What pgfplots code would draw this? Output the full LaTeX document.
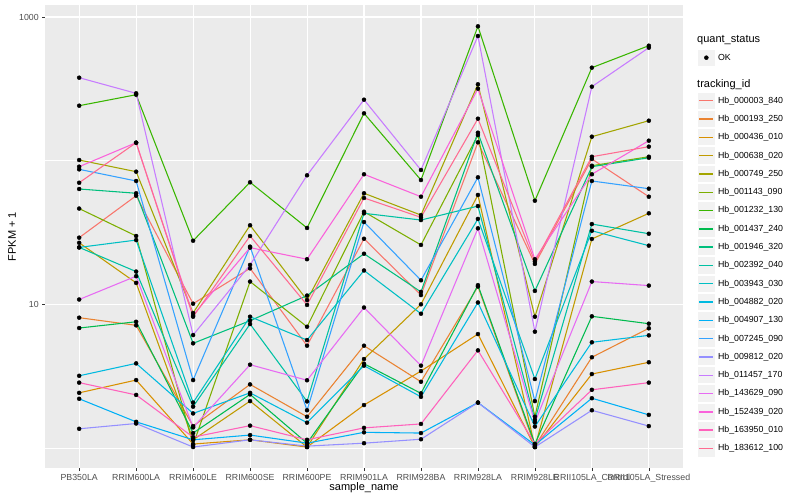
\documentclass[border=0pt]{standalone}
\usepackage{fontspec}
\setmainfont{Liberation Sans}
\usepackage{pgfplots}
\usepackage{pgfplotstable}
\pgfplotsset{compat=1.18}
\definecolor{c01}{HTML}{F8766D}
\definecolor{c02}{HTML}{EA8331}
\definecolor{c03}{HTML}{D89000}
\definecolor{c04}{HTML}{C09B00}
\definecolor{c05}{HTML}{A3A500}
\definecolor{c06}{HTML}{7CAE00}
\definecolor{c07}{HTML}{39B600}
\definecolor{c08}{HTML}{00BB4E}
\definecolor{c09}{HTML}{00BF7D}
\definecolor{c10}{HTML}{00C1A3}
\definecolor{c11}{HTML}{00BFC4}
\definecolor{c12}{HTML}{00BAE0}
\definecolor{c13}{HTML}{00B0F6}
\definecolor{c14}{HTML}{35A2FF}
\definecolor{c15}{HTML}{9590FF}
\definecolor{c16}{HTML}{C77CFF}
\definecolor{c17}{HTML}{E76BF3}
\definecolor{c18}{HTML}{FA62DB}
\definecolor{c19}{HTML}{FF62BC}
\definecolor{c20}{HTML}{FF6C91}
\definecolor{panelbg}{HTML}{EBEBEB}
\definecolor{keybg}{HTML}{F2F2F2}
\definecolor{grey30}{HTML}{4D4D4D}
\definecolor{grey20}{HTML}{333333}

% FPKM + 1 per sample (rows) and tracking_id (columns a01..a20, legend order)
\pgfplotstableread{
x a01 a02 a03 a04 a05 a06 a07 a08 a09 a10 a11 a12 a13 a14 a15 a16 a17 a18 a19 a20
0 29.1 8.07 2.42 26.8 101.0 46.4 241.3 6.84 63.5 24.9 24.9 3.18 2.20 87.0 1.36 378.0 10.8 90.8 2.85 70.2
1 57.0 7.14 2.97 14.1 83.8 29.9 287.7 7.56 59.3 16.9 28.0 3.88 1.52 72.2 1.48 294.2 15.7 133.4 2.34 133.4
2 10.1 1.42 1.065 1.14 8.7 1.05 27.7 1.27 5.35 1.94 2.07 1.74 1.14 2.97 1.015 6.11 1.39 8.4 1.19 8.2
3 17.8 2.77 1.14 2.12 35.5 14.4 70.7 2.36 7.69 7.29 8.2 2.42 1.23 25.2 1.14 18.8 3.80 24.8 1.43 29.9
4 5.15 1.65 1.015 1.015 10.7 6.98 34.0 1.08 11.5 2.11 5.64 1.50 1.08 1.83 1.03 79.1 2.96 20.6 1.14 9.9
5 28.6 5.15 1.99 4.16 59.3 44.1 213.6 3.86 22.5 43.0 17.2 3.74 1.285 37.4 1.08 265.6 9.5 80.4 1.38 55.0
6 11.6 2.89 3.43 10.0 41.8 25.9 73.3 2.40 12.2 38.6 8.6 2.27 1.27 14.7 1.15 86.1 3.74 56.1 1.47 40.3
7 134.2 13.3 6.21 57.7 340.1 150.8 861.5 13.6 156.5 48.3 39.3 10.3 2.07 76.6 2.07 737.5 33.8 316.9 4.78 195.9
8 19.1 1.03 1.015 1.015 8.2 1.65 52.6 1.065 12.4 1.57 3.02 1.41 1.05 2.12 1.015 6.45 1.51 20.6 1.065 19.8
9 102.7 4.28 3.27 28.5 146.8 92.2 443.8 8.25 90.8 36.2 32.5 5.44 2.22 72.2 1.83 327.3 14.4 80.4 2.54 106.5
10 56.1 6.81 3.95 43.0 189.7 106.5 631.3 7.33 104.8 31.0 25.6 6.08 1.70 63.8 1.42 611.4 13.5 137.7 2.85 125.1
}\data

\begin{document}
\begin{tikzpicture}
\path[use as bounding box] (0,0) rectangle (800pt,500pt);
\begin{axis}[
  at={(45pt,31.7pt)}, anchor=south west,
  scale only axis, width=638pt, height=463.3pt,
  ymode=log, ymin=0.722, ymax=1212,
  xmin=-0.6, xmax=10.6,
  xtick={0,1,2,3,4,5,6,7,8,9,10},
  xticklabels={PB350LA,RRIM600LA,RRIM600LE,RRIM600SE,RRIM600PE,RRIM901LA,RRIM928BA,RRIM928LA,RRIM928LE,RRII105LA\_Control,RRII105LA\_Stressed},
  ytick={10,1000}, yticklabels={10,1000},
  minor ytick={1,100},
  xmajorgrids, ymajorgrids, yminorgrids,
  major grid style={white, line width=1.07pt},
  minor grid style={white, line width=0.53pt},
  axis background/.style={fill=panelbg},
  axis line style={draw=none},
  tick pos=left, tick align=outside,
  major tick length=2.75pt, minor tick length=0pt,
  every tick/.style={grey20, line width=0.53pt},
  /pgf/number format/assume math mode=true,
  tick label style={font=\fontsize{8.8}{10}\selectfont, text=grey30},
  xlabel={sample\_name}, ylabel={FPKM + 1},
  xlabel style={at={(axis description cs:0.5,-0.0425)}, anchor=center, font=\fontsize{11}{13}\selectfont},
  ylabel style={at={(axis description cs:-0.0517,0.5)}, anchor=center, font=\fontsize{11}{13}\selectfont},
  legend image code/.code={
    \fill[keybg, draw=white, line width=1pt] (0pt,-8.65pt) rectangle (17.3pt,8.65pt);
    \draw[#1] (1.7pt,0pt) -- (15.6pt,0pt);
  },
  legend cell align=left,
  legend style={at={(axis description cs:1.02194,0.81362)}, anchor=north west,
    draw=none, fill=none, inner sep=0pt, row sep=0pt, column sep=2.5pt,
    nodes={inner sep=0pt, anchor=west, font=\fontsize{8.8}{10}\selectfont, text=black}},
]
\pgfplotsinvokeforeach{01,02,03,04,05,06,07,08,09,10,11,12,13,14,15,16,17,18,19,20}{
  \addplot[c#1, line width=1.07pt, forget plot] table[x=x, y=a#1]{\data};
}
\pgfplotsinvokeforeach{01,02,03,04,05,06,07,08,09,10,11,12,13,14,15,16,17,18,19,20}{
  \addplot[only marks, mark=*, mark size=2pt, black, forget plot] table[x=x, y=a#1]{\data};
}
\addlegendimage{c01, line width=1.4pt}\addlegendentry{Hb\_000003\_840}
\addlegendimage{c02, line width=1.4pt}\addlegendentry{Hb\_000193\_250}
\addlegendimage{c03, line width=1.4pt}\addlegendentry{Hb\_000436\_010}
\addlegendimage{c04, line width=1.4pt}\addlegendentry{Hb\_000638\_020}
\addlegendimage{c05, line width=1.4pt}\addlegendentry{Hb\_000749\_250}
\addlegendimage{c06, line width=1.4pt}\addlegendentry{Hb\_001143\_090}
\addlegendimage{c07, line width=1.4pt}\addlegendentry{Hb\_001232\_130}
\addlegendimage{c08, line width=1.4pt}\addlegendentry{Hb\_001437\_240}
\addlegendimage{c09, line width=1.4pt}\addlegendentry{Hb\_001946\_320}
\addlegendimage{c10, line width=1.4pt}\addlegendentry{Hb\_002392\_040}
\addlegendimage{c11, line width=1.4pt}\addlegendentry{Hb\_003943\_030}
\addlegendimage{c12, line width=1.4pt}\addlegendentry{Hb\_004882\_020}
\addlegendimage{c13, line width=1.4pt}\addlegendentry{Hb\_004907\_130}
\addlegendimage{c14, line width=1.4pt}\addlegendentry{Hb\_007245\_090}
\addlegendimage{c15, line width=1.4pt}\addlegendentry{Hb\_009812\_020}
\addlegendimage{c16, line width=1.4pt}\addlegendentry{Hb\_011457\_170}
\addlegendimage{c17, line width=1.4pt}\addlegendentry{Hb\_143629\_090}
\addlegendimage{c18, line width=1.4pt}\addlegendentry{Hb\_152439\_020}
\addlegendimage{c19, line width=1.4pt}\addlegendentry{Hb\_163950\_010}
\addlegendimage{c20, line width=1.4pt}\addlegendentry{Hb\_183612\_100}
\end{axis}
\begin{axis}[
  at={(45pt,31.7pt)}, anchor=south west,
  scale only axis, width=638pt, height=463.3pt,
  hide axis, xmin=0, xmax=1, ymin=0, ymax=1,
  legend image code/.code={
    \fill[keybg, draw=white, line width=1pt] (0pt,-8.65pt) rectangle (17.3pt,8.65pt);
    \draw[#1] plot[only marks] coordinates {(8.65pt,0pt)};
  },
  legend cell align=left,
  legend style={at={(axis description cs:1.02194,0.90642)}, anchor=north west,
    draw=none, fill=none, inner sep=0pt, row sep=0pt, column sep=2.5pt,
    nodes={inner sep=0pt, anchor=west, font=\fontsize{8.8}{10}\selectfont, text=black}},
]
\addlegendimage{black, mark=*, mark size=2pt}\addlegendentry{OK}
\end{axis}
\node[anchor=west, inner sep=0pt, font=\fontsize{11}{13}\selectfont] at (697pt,460pt) {quant\_status};
\node[anchor=west, inner sep=0pt, font=\fontsize{11}{13}\selectfont] at (697pt,415.7pt) {tracking\_id};
\end{tikzpicture}
\end{document}
